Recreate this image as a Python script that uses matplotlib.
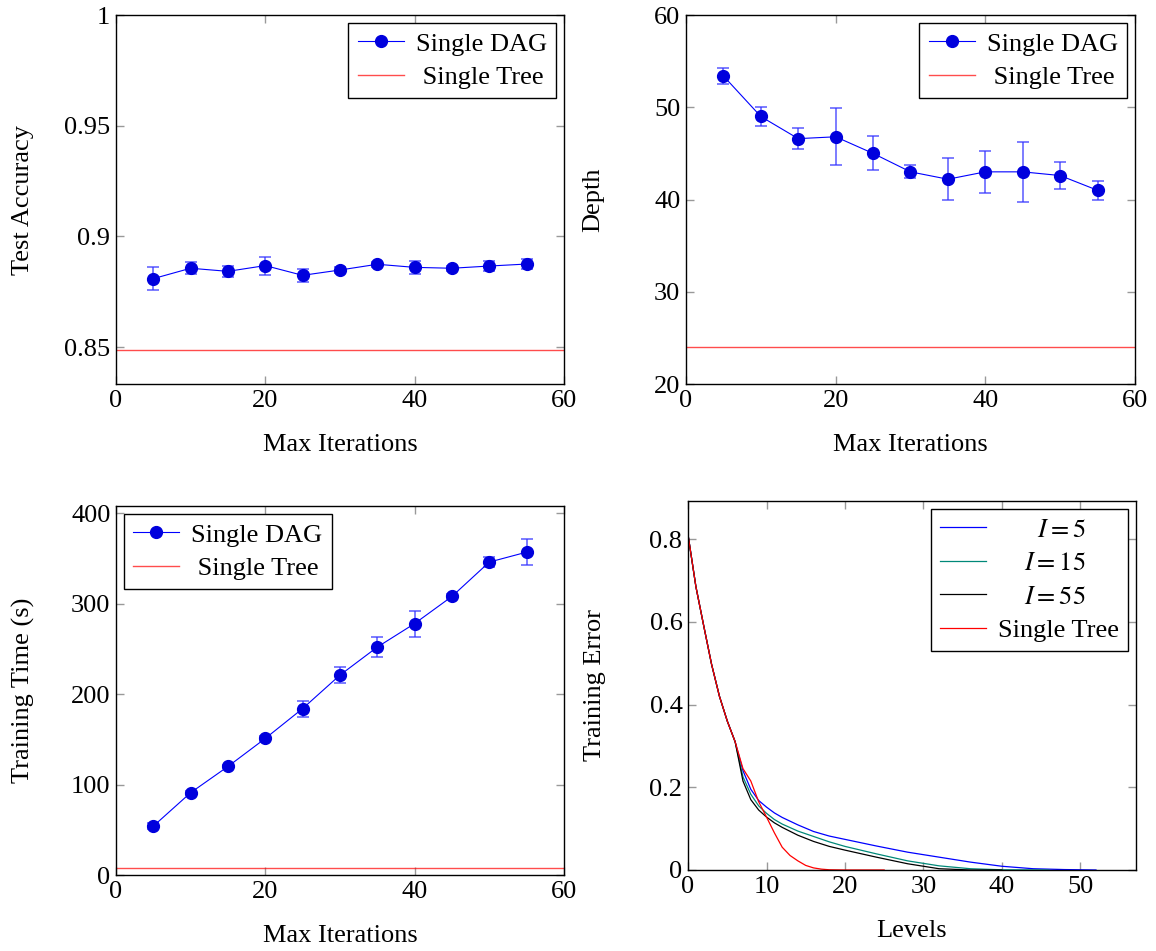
import numpy as np
import matplotlib
matplotlib.use('Agg')
import matplotlib.pyplot as plt
from matplotlib.lines import Line2D

plt.rcParams['font.family'] = 'serif'
plt.rcParams['font.serif'] = ['Liberation Serif', 'DejaVu Serif']
plt.rcParams['mathtext.fontset'] = 'stix'
plt.rcParams['font.size'] = 19

# max iterations experiments
iters = [5, 10, 15, 20, 25, 30, 35, 40, 45, 50, 55]

acc = [0.8809, 0.8856, 0.8842, 0.8868, 0.8824, 0.8848, 0.8874, 0.8860, 0.8856, 0.8866, 0.8875]
acc_err = [0.0052, 0.0028, 0.0024, 0.0041, 0.0029, 0.0012, 0.0012, 0.0028, 0.0012, 0.0022, 0.0022]
tree_acc = 0.8488

depth = [53.4, 49.0, 46.6, 46.8, 45.0, 43.0, 42.2, 43.0, 43.0, 42.6, 41.0]
depth_err = [0.9, 1.0, 1.1, 3.1, 1.85, 0.7, 2.25, 2.25, 3.25, 1.5, 1.0]
tree_depth = 24.0

train_time = [54, 91, 120, 151, 184, 221, 252, 278, 308, 346, 357]
time_err = [3, 2, 2, 3, 8.9, 8.5, 10.9, 14.4, 3, 5.5, 14.4]
tree_time = 7.5

# training error per level
lv_i5 = [0, 1, 2, 3, 4, 5, 6, 7, 8, 9, 10, 11, 12, 14, 16, 18, 20, 24, 28, 32, 36, 40, 44, 48, 52]
err_i5 = [0.81, 0.685, 0.59, 0.497, 0.42, 0.36, 0.31, 0.24, 0.195, 0.168, 0.152, 0.138, 0.127,
          0.109, 0.093, 0.082, 0.074, 0.058, 0.043, 0.031, 0.019, 0.009, 0.003, 0.001, 0.0]
lv_i15 = [0, 1, 2, 3, 4, 5, 6, 7, 8, 9, 10, 11, 12, 14, 16, 18, 20, 24, 28, 32, 36, 40, 46]
err_i15 = [0.81, 0.685, 0.59, 0.497, 0.42, 0.36, 0.31, 0.225, 0.183, 0.155, 0.137, 0.122, 0.111,
           0.094, 0.081, 0.068, 0.057, 0.039, 0.022, 0.010, 0.003, 0.0005, 0.0]
lv_i55 = [0, 1, 2, 3, 4, 5, 6, 7, 8, 9, 10, 11, 12, 14, 16, 18, 20, 24, 28, 32, 36, 40]
err_i55 = [0.81, 0.685, 0.59, 0.497, 0.42, 0.36, 0.31, 0.215, 0.17, 0.145, 0.128, 0.114, 0.103,
           0.084, 0.069, 0.057, 0.048, 0.031, 0.015, 0.003, 0.0, 0.0]
lv_tree = [0, 1, 2, 3, 4, 5, 6, 7, 8, 9, 10, 11, 12, 13, 14, 15, 16, 17, 18, 20, 25]
err_tree = [0.81, 0.685, 0.59, 0.497, 0.42, 0.36, 0.31, 0.245, 0.215, 0.165, 0.128, 0.09, 0.055,
            0.035, 0.022, 0.011, 0.005, 0.002, 0.0005, 0.0, 0.0]


def fmt(v, pos):
    return f'{v:g}'


def style(ax):
    ax.tick_params(direction='in', top=True, right=True, length=6, width=1,
                   color='#999999', labelsize=19, pad=4)
    for s in ax.spines.values():
        s.set_linewidth(1)
    ax.xaxis.set_major_formatter(plt.FuncFormatter(fmt))
    ax.yaxis.set_major_formatter(plt.FuncFormatter(fmt))
    # ylabel centre sits ~93 px left of the axis line
    ax.yaxis.set_label_coords(-93 / 448, 0.5)
    ax.yaxis.label.set_va('center')


leg_kw = dict(fancybox=False, edgecolor='black', framealpha=1, fontsize=19,
              handlelength=1.75, borderaxespad=0.3, handletextpad=0.45,
              labelspacing=0.38, borderpad=0.35)


def dag_plot(ax, y, yerr, tree, loc):
    ax.errorbar(iters, y, yerr=yerr, fmt='-o', color='blue', lw=0.8, ms=8.5,
                mfc='#0000dd', mec='#0000dd', ecolor=(0.2, 0.2, 1.0, 0.75), elinewidth=1.2,
                capsize=4, capthick=1.2)
    ax.axhline(tree, color='red', lw=1.0, alpha=0.7)
    ax.set_xlim(0, 60)
    ax.set_xticks([0, 20, 40, 60])
    ax.set_xlabel('Max Iterations', fontsize=19, labelpad=16)
    handles = [Line2D([], [], color='blue', lw=0.8, marker='o', ms=8.5,
                      mfc='#0000dd', mec='#0000dd'),
               Line2D([], [], color='red', lw=1.0, alpha=0.7)]
    ax.legend(handles, ['Single DAG', ' Single Tree'], loc=loc, **leg_kw)


fig = plt.figure(figsize=(11.56, 9.51), dpi=100)
ax1 = fig.add_axes([0.1003, 0.5962, 0.3875, 0.388])
ax2 = fig.add_axes([0.5934, 0.5962, 0.3884, 0.388])
ax3 = fig.add_axes([0.1003, 0.0799, 0.3875, 0.388])
ax4 = fig.add_axes([0.5952, 0.0852, 0.3875, 0.388])

dag_plot(ax1, acc, acc_err, tree_acc, 'upper right')
ax1.set_ylim(0.8333, 1)
ax1.set_yticks([0.85, 0.9, 0.95, 1])
ax1.set_ylabel('Test Accuracy', fontsize=19)

dag_plot(ax2, depth, depth_err, tree_depth, 'upper right')
ax2.set_ylim(20, 60)
ax2.set_yticks([20, 30, 40, 50, 60])
ax2.set_ylabel('Depth', fontsize=19)

dag_plot(ax3, train_time, time_err, tree_time, 'upper left')
ax3.set_ylim(0, 408)
ax3.set_yticks([0, 100, 200, 300, 400])
ax3.set_ylabel('Training Time (s)', fontsize=19)

ax4.plot(lv_i5, err_i5, color='blue', lw=0.9, label='      $I = 5$')
ax4.plot(lv_i15, err_i15, color='#008878', lw=0.9, label='    $I = 15$')
ax4.plot(lv_i55, err_i55, color='black', lw=0.9, label='    $I = 55$')
ax4.plot(lv_tree, err_tree, color='red', lw=0.9, label='Single Tree')
ax4.set_xlim(0, 57.1)
ax4.set_ylim(0, 0.892)
ax4.set_xticks([0, 10, 20, 30, 40, 50])
ax4.set_yticks([0, 0.2, 0.4, 0.6, 0.8])
ax4.set_xlabel('Levels', fontsize=19, labelpad=16)
ax4.set_ylabel('Training Error', fontsize=19)
ax4.legend(loc='upper right', **leg_kw)

for ax in (ax1, ax2, ax3, ax4):
    style(ax)

fig.savefig('out.png', dpi=100)
